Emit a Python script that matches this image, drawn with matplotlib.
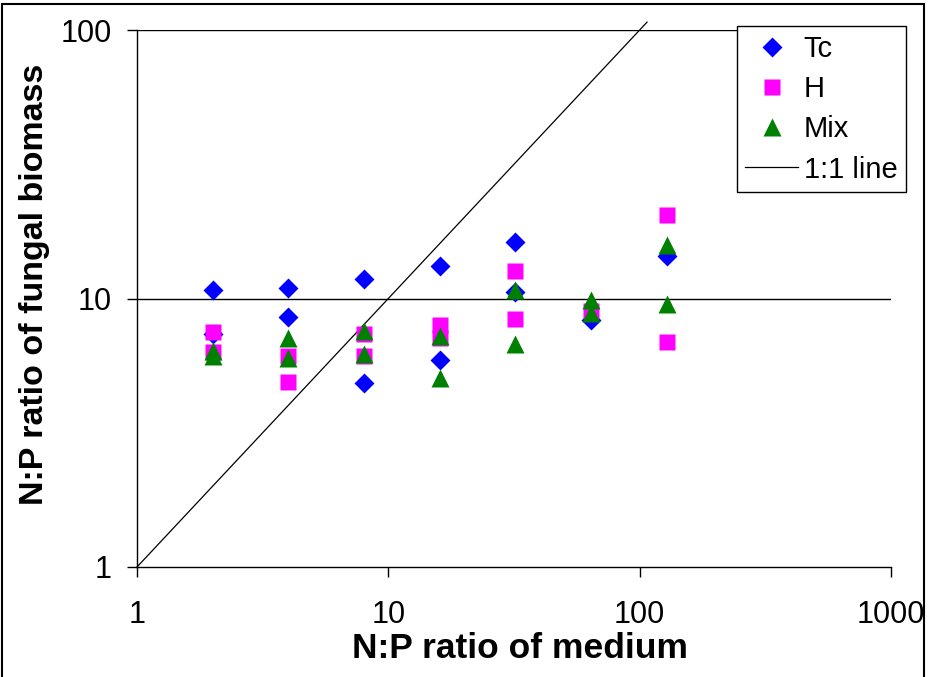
import matplotlib
matplotlib.use('Agg')
import matplotlib.pyplot as plt
from matplotlib.patches import Rectangle

plt.rcParams['font.family'] = ['Liberation Sans', 'DejaVu Sans']

# N:P of medium (x) vs N:P of fungal biomass (y)
tc_x = [2, 2, 4, 4, 8, 8, 16, 16, 32, 32, 64, 128]
tc_y = [10.8, 7.4, 10.9, 8.5, 11.8, 4.85, 13.2, 5.9, 16.2, 10.6, 8.3, 14.4]

h_x = [2, 2, 4, 4, 8, 8, 16, 16, 32, 32, 64, 128, 128]
h_y = [7.5, 6.3, 6.1, 4.9, 7.4, 6.1, 8.0, 7.1, 12.7, 8.4, 9.0, 20.5, 6.9]

mix_x = [2, 2, 4, 4, 8, 8, 16, 16, 32, 32, 64, 64, 128, 128]
mix_y = [6.35, 6.1, 7.1, 6.0, 7.55, 6.2, 7.25, 5.07, 10.75, 6.77, 9.87, 8.85, 15.8, 9.52]

one_to_one = [1, 107]

fig = plt.figure(figsize=(9.31, 6.77), dpi=100)
ax = fig.add_axes([137/931, 1-567/677, 754/931, 537/677])

ax.set_xscale('log')
ax.set_yscale('log')
ax.set_xlim(1, 1000)
ax.set_ylim(1, 100)

# horizontal gridlines at 10 and 100
for g in [10, 100]:
    ax.axhline(g, color='black', lw=1.0, zorder=1)

ax.plot(tc_x, tc_y, ls='none', marker='D', ms=10.3, color='#0000FF', mec='none', label='Tc', zorder=3)
ax.plot(h_x, h_y, ls='none', marker='s', ms=11.3, color='#FF00FF', mec='none', label='H', zorder=4)
ax.plot(mix_x, mix_y, ls='none', marker='^', ms=12.3, color='#008000', mec='none', label='Mix', zorder=5)
ax.plot(one_to_one, one_to_one, color='black', lw=0.9, label='1:1 line', clip_on=False, zorder=2)

ax.spines['top'].set_visible(False)
ax.spines['right'].set_visible(False)
ax.spines['left'].set_linewidth(1.0)
ax.spines['bottom'].set_linewidth(1.0)

ax.set_xticks([1, 10, 100, 1000])
ax.set_xticklabels(['1', '10', '100', '1000'])
ax.set_yticks([1, 10, 100])
ax.set_yticklabels(['1', '10', '100'])
ax.minorticks_off()
ax.tick_params(axis='both', direction='out', length=7, width=1.0, labelsize=22, color='black')
ax.tick_params(axis='x', pad=17)
ax.tick_params(axis='y', pad=11)

ax.set_xlabel('N:P ratio of medium', fontsize=25.5, fontweight='bold', va='center')
ax.xaxis.set_label_coords(0.508, -0.1527)
ax.set_ylabel('N:P ratio of fungal biomass', fontsize=24.5, fontweight='bold', va='center')
ax.yaxis.set_label_coords(-0.1366, 0.527)

leg = ax.legend(loc='upper left', bbox_to_anchor=(736.7/931, 1-26/677),
                bbox_transform=fig.transFigure, borderaxespad=0, fontsize=21,
                frameon=True, fancybox=False, edgecolor='black', framealpha=1,
                numpoints=1, handlelength=1.8, handletextpad=0.2,
                borderpad=0.3, labelspacing=0.42)
leg.get_frame().set_linewidth(1.0)

# chart area border
fig.patches.append(Rectangle((2/931, -0.01), 922/931, 1.01-4/677, transform=fig.transFigure,
                             fill=False, edgecolor='black', lw=1.5, clip_on=False))

fig.savefig('out.png', dpi=100)
